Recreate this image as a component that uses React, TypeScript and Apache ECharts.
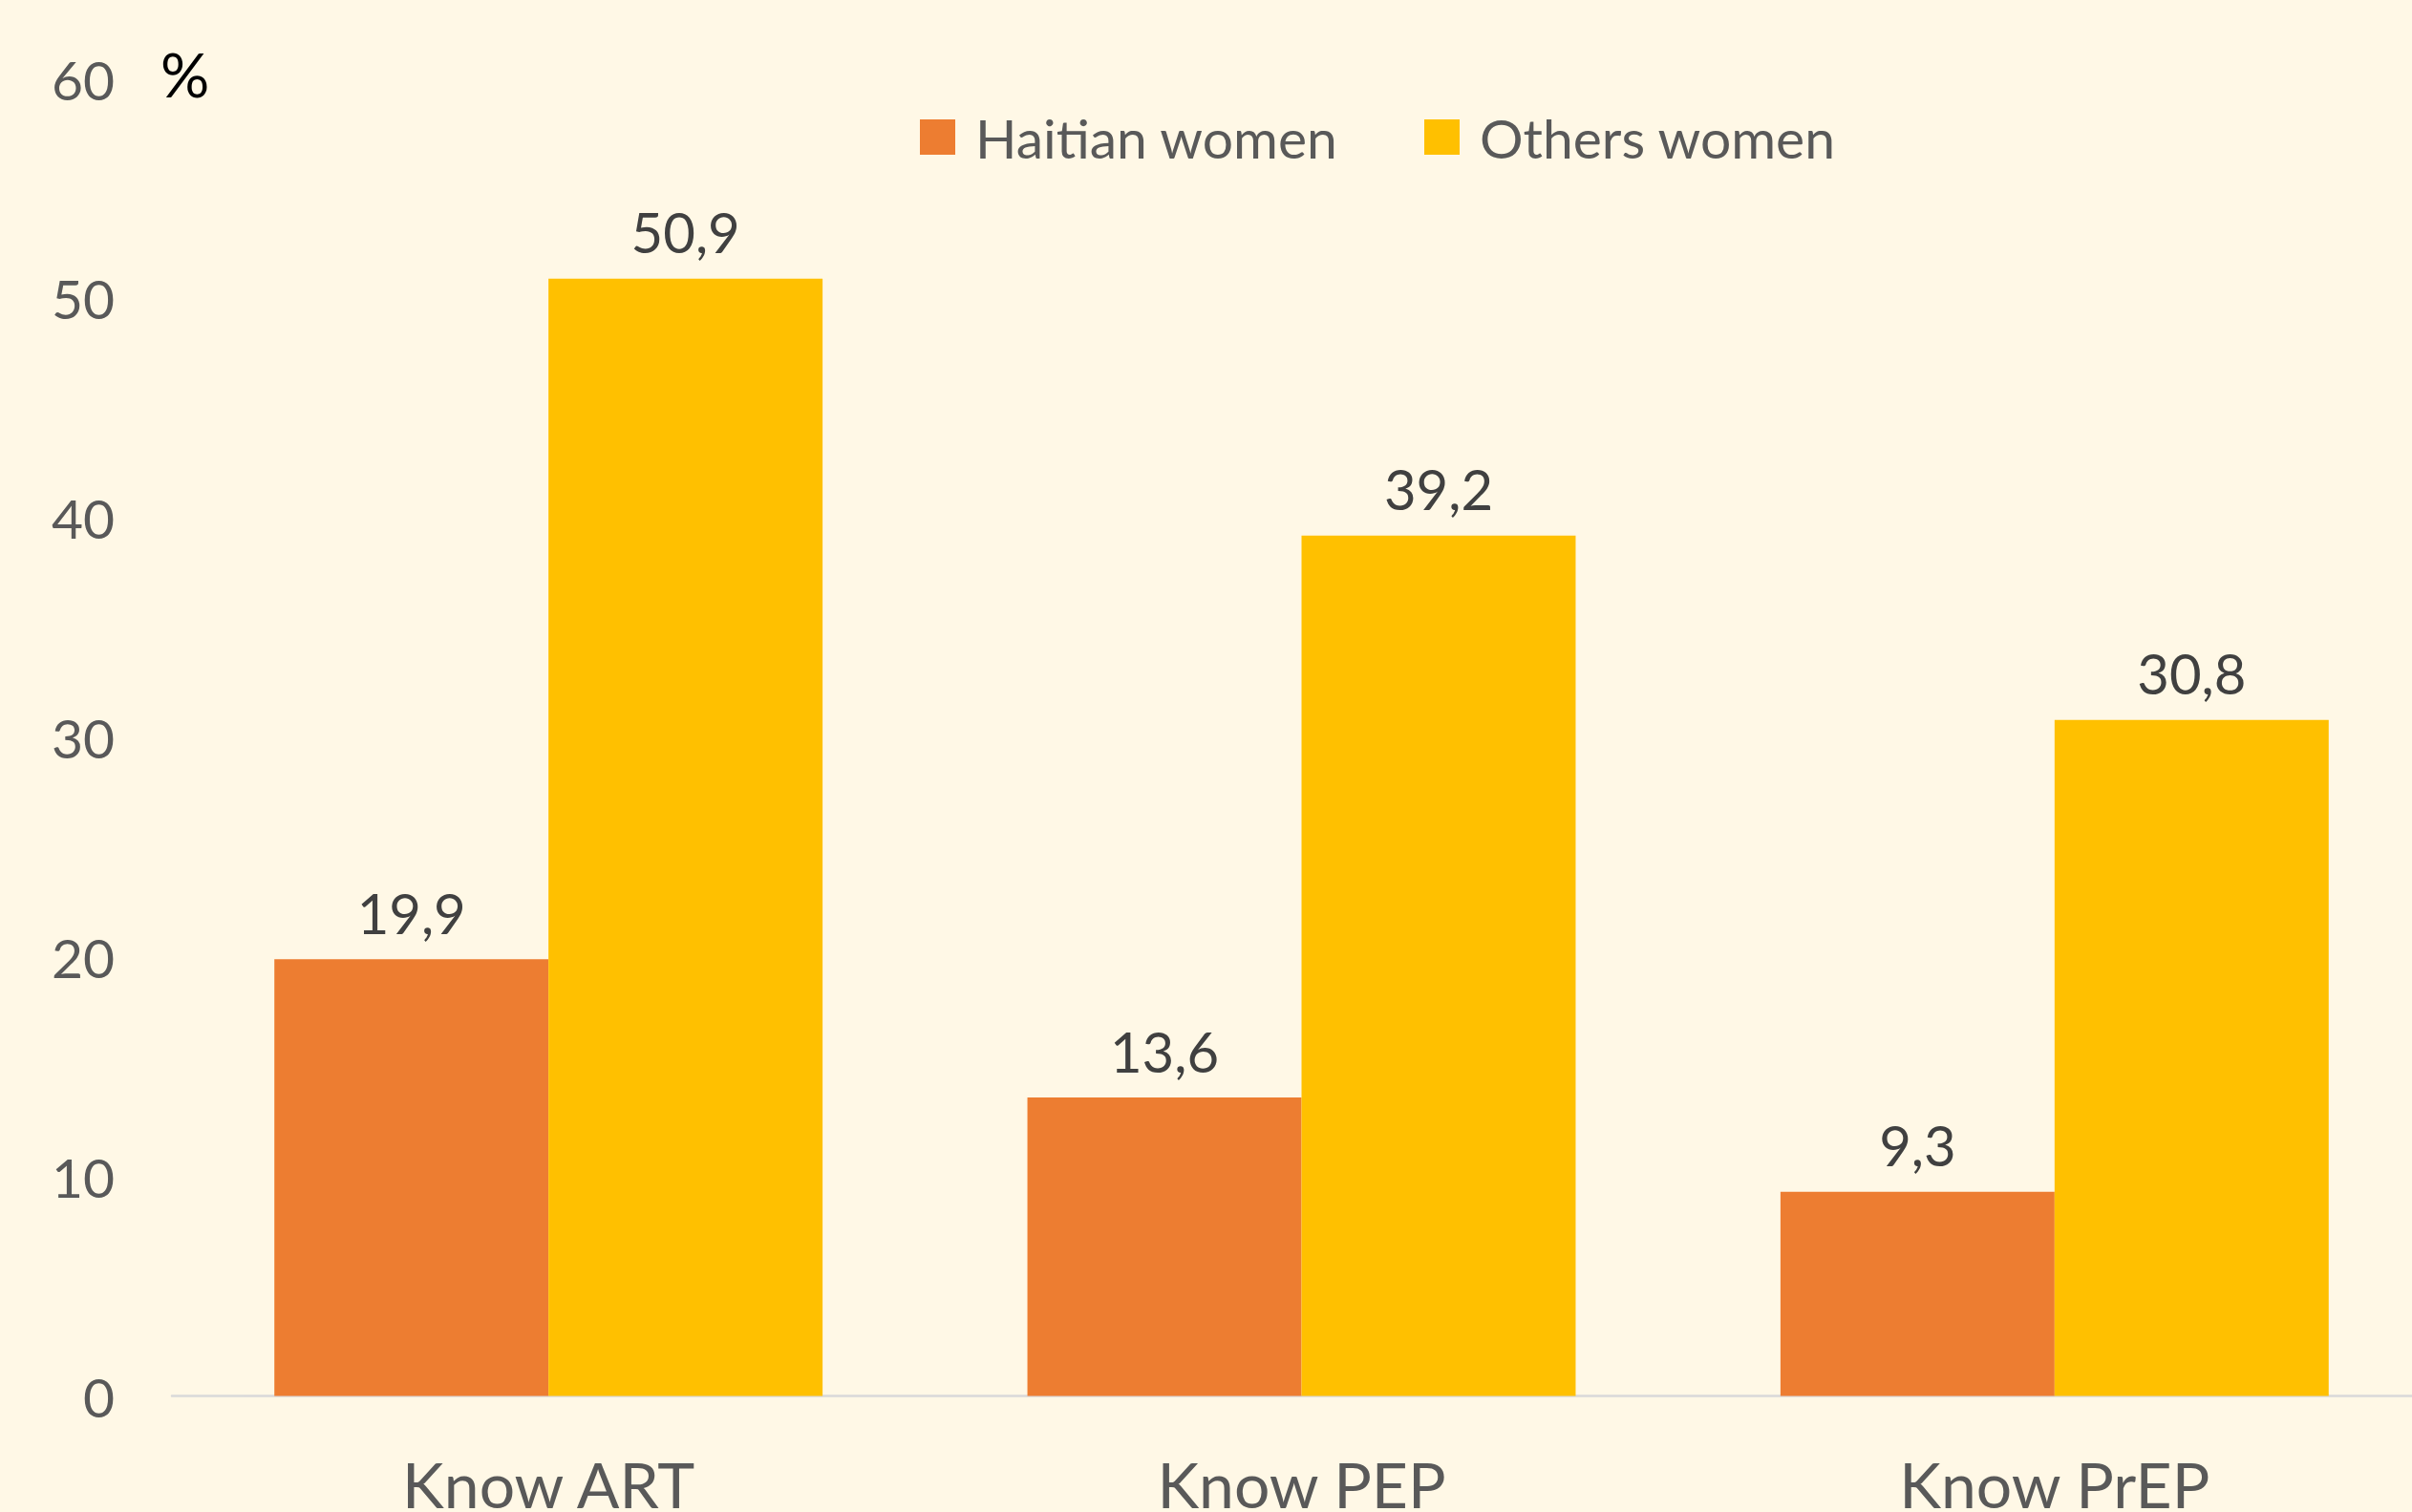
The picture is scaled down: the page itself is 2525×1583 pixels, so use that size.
import React, { useEffect, useRef } from "react";
import * as echarts from "echarts";

const categories = ["Know ART", "Know PEP", "Know PrEP"];
const haitianWomen = [19.9, 13.6, 9.3];
const othersWomen = [50.9, 39.2, 30.8];
const seriesNames = ["Haitian women", "Others women"];
const yTicks = { min: 0, max: 60, interval: 10 };

const FONT = "Lato, 'Open Sans', sans-serif";
const fmt = (v: number) => String(v).replace(".", ",");

export default function App() {
  const ref = useRef<HTMLDivElement>(null);
  useEffect(() => {
    if (!ref.current) return;
    const chart = echarts.init(ref.current, undefined, { renderer: "svg" });
    const labelStyle = {
      show: true,
      position: "top" as const,
      distance: 20,
      color: "#404040",
      fontSize: 58,
      fontFamily: FONT,
      formatter: (p: any) => fmt(p.value),
    };
    const legendText = {
      fontSize: 57,
      color: "#595959",
      fontFamily: FONT,
      padding: [0, 0, 0, 16],
    };
    chart.setOption({
      animation: false,
      backgroundColor: "#FFF8E6",
      textStyle: { fontFamily: FONT },
      legend: [
        {
          data: [seriesNames[0]],
          left: 963,
          top: 115,
          padding: 0,
          icon: "rect",
          itemWidth: 37,
          itemHeight: 37,
          textStyle: legendText,
        },
        {
          data: [seriesNames[1]],
          left: 1491,
          top: 115,
          padding: 0,
          icon: "rect",
          itemWidth: 37,
          itemHeight: 37,
          textStyle: legendText,
        },
      ],
      grid: {
        left: 180,
        top: 82.6,
        width: 2365,
        height: 1379,
        containLabel: false,
        outerBoundsMode: "none",
      },
      xAxis: {
        type: "category",
        data: categories,
        axisLine: { show: true, lineStyle: { color: "#D9D9D9", width: 2.5 } },
        axisTick: { show: false },
        axisLabel: { margin: 59, fontSize: 66, color: "#595959", fontFamily: FONT },
      },
      yAxis: {
        type: "value",
        min: yTicks.min,
        max: yTicks.max,
        interval: yTicks.interval,
        axisLine: { show: false },
        axisTick: { show: false },
        splitLine: { show: false },
        axisLabel: {
          margin: 60,
          fontSize: 57,
          color: "#595959",
          fontFamily: FONT,
          padding: [0, 0, 8, 0],
        },
      },
      graphic: [
        {
          type: "text",
          style: {
            text: "%",
            x: 168,
            y: 77,
            verticalAlign: "middle",
            align: "left",
            fontSize: 64,
            fontFamily: FONT,
            fill: "#000000",
          },
        },
      ],
      series: [
        {
          name: seriesNames[0],
          type: "bar",
          data: haitianWomen,
          barGap: "0%",
          barCategoryGap: "27.2%",
          itemStyle: { color: "#ED7D31" },
          label: labelStyle,
        },
        {
          name: seriesNames[1],
          type: "bar",
          data: othersWomen,
          barGap: "0%",
          barCategoryGap: "27.2%",
          itemStyle: { color: "#FFC000" },
          label: labelStyle,
        },
      ],
    });
    return () => chart.dispose();
  }, []);
  return (
    <div
      ref={ref}
      style={{ position: "fixed", left: 0, top: 0, width: 2525, height: 1583 }}
    />
  );
}
